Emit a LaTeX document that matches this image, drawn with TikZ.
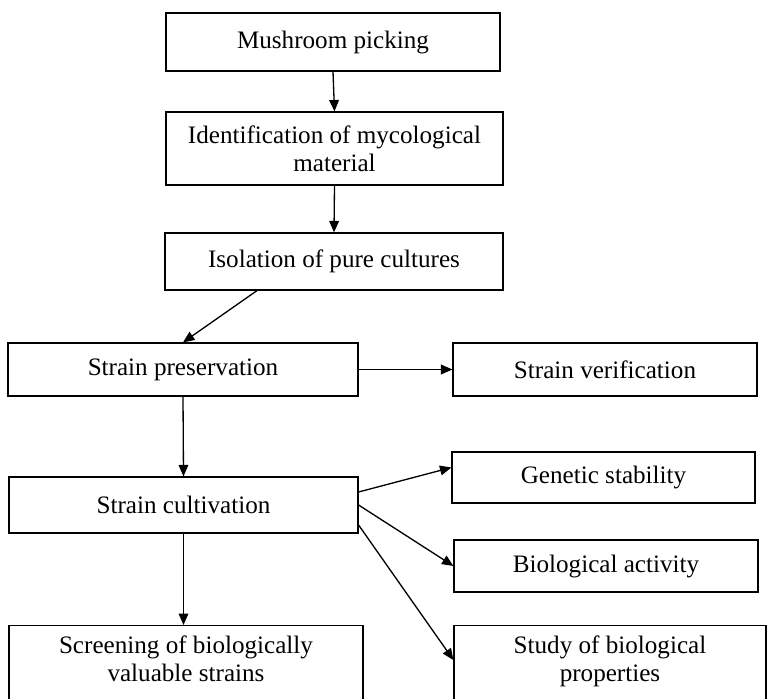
\documentclass[tikz,border=0pt]{standalone}
\usepackage{fontspec}
\setmainfont{Liberation Serif}
\usetikzlibrary{arrows.meta, calc, positioning}

\tikzset{
    stage/.style={draw, line width=0.7pt, align=center, inner sep=2pt, font=\fontsize{14.3}{16}\selectfont},
    openstage/.style={stage, anchor=north, inner xsep=0pt, inner ysep=6pt}
}

\begin{document}
\begin{tikzpicture}[x=0.02cm, y=-0.02cm, >={Triangle[length=6.5pt, width=5.5pt]}, line width=0.75pt]
    \clip (0, 0) rectangle (768, 699);
    \node[stage, minimum width=6.68cm, minimum height=1.16cm] (pick) at (333, 42) {Mushroom picking};
    \node[stage, minimum width=6.74cm, minimum height=1.46cm] (ident) at (334.5, 148.5) {Identification of mycological\\material};
    \node[stage, minimum width=6.76cm, minimum height=1.14cm] (isol) at (334, 261.5) {Isolation of pure cultures};
    \node[stage, minimum width=7cm, minimum height=1.06cm] (pres) at (183, 369.5) {Strain preservation};
    \node[stage, minimum width=6.08cm, minimum height=1.06cm] (verif) at (605, 369.5) {Strain verification};
    \node[stage, minimum width=6.98cm, minimum height=1.12cm] (cult) at (183.5, 505) {Strain cultivation};
    \node[stage, minimum width=6.06cm, minimum height=1.02cm] (gen) at (603.5, 477.5) {Genetic stability};
    \node[stage, minimum width=6.08cm, minimum height=1.04cm] (bio) at (606, 566) {Biological activity};
    % the two lowest boxes run past the lower edge
    \node[openstage] (screen) at (186, 625) {\parbox[t][2.4cm][t]{7.08cm}{\centering Screening of biologically\\valuable strains}};
    \node[openstage] (study) at (610, 625) {\parbox[t][2.4cm][t]{6.24cm}{\centering Study of biological\\properties}};
    \draw
    (pick.south) edge[->] (ident.north)
    (ident.south) edge[->] (isol.north)
    ($(isol.south)+(-77, 0)$) edge[->] (pres.north)
    (pres.east) edge[->] (verif.west)
    (pres.south) edge[->] (cult.north)
    ($(cult.east)+(0, -13)$) edge[->] ($(gen.west)+(0, -10)$)
    (cult.east) edge[->] (bio.west)
    ($(cult.east)+(0, 20)$) edge[->] ($(study.north west)+(0, 35)$)
    (cult.south) edge[->] (cult.south |- screen.north);
\end{tikzpicture}
\end{document}
